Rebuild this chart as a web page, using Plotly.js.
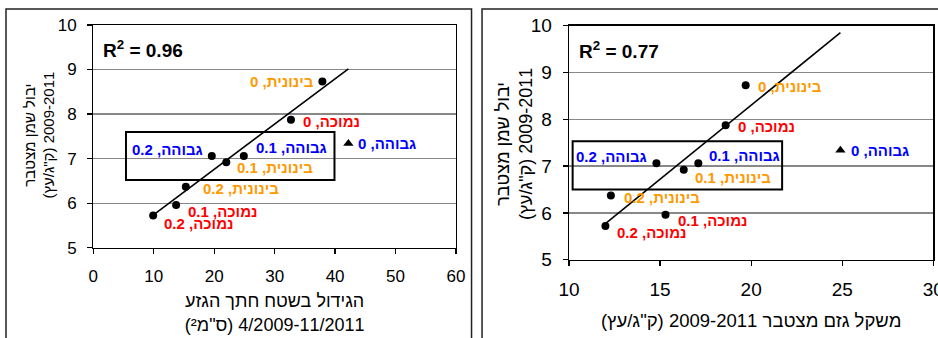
<!DOCTYPE html>
<html>
<head>
<meta charset="utf-8">
<script src="https://cdn.plot.ly/plotly-3.0.1.min.js"></script>
<style>html,body{margin:0;padding:0;background:#fff;}#chart{width:938px;height:338px;}</style>
</head>
<body>
<div id="chart"></div>
<script>
// ---------- DATA ----------
const vigor = ['נמוכה','נמוכה','נמוכה','בינונית','בינונית','בינונית','גבוהה','גבוהה','גבוהה'];
const rate = ['0','0.1','0.2','0','0.1','0.2','0','0.1','0.2'];
const oilYield = [7.87, 5.96, 5.72, 8.73, 6.92, 6.37, 7.34, 7.06, 7.06];
const trunkGrowth = [32.7, 13.7, 9.9, 37.9, 22.0, 15.3, 42.2, 24.9, 19.6];
const prunedWeight = [18.6, 15.3, 12.0, 19.7, 16.3, 12.3, 24.9, 17.1, 14.8];
const excludedFromFit = [false,false,false,false,false,false,true,false,false];
const r2Left = '0.96';
const r2Right = '0.77';
const leftXTitle = ['הגידול בשטח חתך הגזע', '4/2009-11/2011 (ס"מ²)'];
const rightXTitle = ['משקל גזם מצטבר 2009-2011 (ק"ג/עץ)'];
const yTitle = ['יבול שמן מצטבר', '2009-2011 (ק"ג/עץ)'];

// ---------- STYLE ----------
const vigorColor = {'נמוכה':'#FF0000','בינונית':'#FF9900','גבוהה':'#0000FF'};
const FONT = 'Liberation Sans, Arial, sans-serif';
const LABEL_SIZE = 15;
const RLE = '\u202B', PDF = '\u202C';
const rtl = s => RLE + s + PDF;
// right-to-left label "<vigor>, <rate>" laid out in display order for the SVG text run
const rtlLabel = (v, r) => r + ' ,' + v;
// label placement: [side of point, gap px, y shift px]
const leftLabelPos = [['l',11,-2],['l',11,-7],['l',10,-8],['r',7,0],['l',10,-5],['l',16,-2],['l',9,0],['l',11,8],['r',8,6]];
const rightLabelPos = [['l',11,-1],['l',11,-6],['l',11,-7],['l',11,-1],['l',10,-8],['l',12,-2],['l',10,0],['l',10,8],['r',8,7]];

function fit(xs, ys, excl) {
  const px = [], py = [];
  xs.forEach((x,i)=>{ if(!excl[i]){ px.push(x); py.push(ys[i]); } });
  const n = px.length;
  const mx = px.reduce((a,b)=>a+b,0)/n, my = py.reduce((a,b)=>a+b,0)/n;
  let sxy=0, sxx=0;
  for(let i=0;i<n;i++){ sxy+=(px[i]-mx)*(py[i]-my); sxx+=(px[i]-mx)*(px[i]-mx); }
  const b = sxy/sxx, a = my-b*mx;
  const x0 = Math.min(...xs), x1 = Math.max(...xs);
  return {x:[x0,x1], y:[a+b*x0, a+b*x1]};
}

function traces(xs, xa, ya) {
  const inc = xs.map((x,i)=>!excludedFromFit[i]);
  const circX = xs.filter((x,i)=>inc[i]), circY = oilYield.filter((y,i)=>inc[i]);
  const triX = xs.filter((x,i)=>!inc[i]), triY = oilYield.filter((y,i)=>!inc[i]);
  const f = fit(xs, oilYield, excludedFromFit);
  return [
    {x:f.x, y:f.y, xaxis:xa, yaxis:ya, mode:'lines', line:{color:'#000', width:1.6}, hoverinfo:'skip'},
    {x:circX, y:circY, xaxis:xa, yaxis:ya, mode:'markers', marker:{symbol:'circle', size:8, color:'#000'}},
    {x:triX, y:triY, xaxis:xa, yaxis:ya, mode:'markers', marker:{symbol:'triangle-up', size:9, color:'#000'}}
  ];
}

function labels(xs, xa, ya, pos) {
  return xs.map((x,i)=>{
    const side = pos[i][0]==='l' ? 'left' : 'right';
    return {
      x:x, y:oilYield[i], xref:xa, yref:ya, showarrow:false,
      text: rtlLabel(vigor[i], rate[i]), xanchor:side, align:side, yanchor:'middle',
      xshift: side==='left' ? pos[i][1] : -pos[i][1], yshift: pos[i][2], borderpad:0,
      font:{family:FONT, size:LABEL_SIZE, color:vigorColor[vigor[i]], weight:'bold'}
    };
  });
}

const axisCommon = {
  showline:true, mirror:true, linecolor:'#000', linewidth:1.3,
  ticks:'outside', ticklen:5, tickcolor:'#000', tickwidth:1.3,
  zeroline:false, automargin:false, fixedrange:true
};

const data = [...traces(trunkGrowth,'x','y'), ...traces(prunedWeight,'x2','y2')];

const layout = {
  width:938, height:338, margin:{l:0,r:0,t:0,b:0},
  paper_bgcolor:'#fff', plot_bgcolor:'#fff', showlegend:false,
  font:{family:FONT, color:'#000'},
  xaxis: Object.assign({}, axisCommon, {
    domain:[0.0995,0.4861], range:[0,60], dtick:10, anchor:'y', showgrid:false,
    tickfont:{size:17}, ticklabelstandoff:8,
    title:{text: leftXTitle.map(rtl).join('<br>'), font:{size:18}, standoff:9}
  }),
  yaxis: Object.assign({}, axisCommon, {
    domain:[0.2672,0.926], range:[5,10], dtick:1, anchor:'x', showgrid:true, gridcolor:'#888', gridwidth:1.3,
    tickfont:{size:17}, ticklabelstandoff:7
  }),
  xaxis2: Object.assign({}, axisCommon, {
    domain:[0.6066,0.995], range:[10,30], dtick:5, anchor:'y2', showgrid:false,
    tickfont:{size:19}, ticklabelstandoff:7, ticklabeloverflow:'allow',
    title:{text: rightXTitle.map(rtl).join('<br>'), font:{size:18.5}, standoff:15}
  }),
  yaxis2: Object.assign({}, axisCommon, {
    domain:[0.2317,0.924], range:[5,10], dtick:1, anchor:'x2', showgrid:true, gridcolor:'#888', gridwidth:1.3,
    tickfont:{size:19}, ticklabelstandoff:7
  }),
  annotations: [
    ...labels(trunkGrowth,'x','y',leftLabelPos),
    ...labels(prunedWeight,'x2','y2',rightLabelPos),
    {xref:'x domain', yref:'y domain', x:0.022, y:0.893, xanchor:'left', yanchor:'middle', showarrow:false,
     text:'R<sup>2</sup> = ' + r2Left, font:{family:FONT, size:19, weight:'bold', color:'#000'}},
    {xref:'x2 domain', yref:'y2 domain', x:0.022, y:0.895, xanchor:'left', yanchor:'middle', showarrow:false,
     text:'R<sup>2</sup> = ' + r2Right, font:{family:FONT, size:19, weight:'bold', color:'#000'}},
    {xref:'paper', yref:'paper', x:38.5/938, y:(338-135)/338, xanchor:'center', yanchor:'middle', showarrow:false,
     textangle:-90, text: yTitle.map(rtl).join('<br>'), font:{family:FONT, size:15, color:'#000'}},
    {xref:'paper', yref:'paper', x:515/938, y:(338-144)/338, xanchor:'center', yanchor:'middle', showarrow:false,
     textangle:-90, text: yTitle.map(rtl).join('<br>'), font:{family:FONT, size:18, color:'#000'}}
  ],
  shapes: [
    {type:'rect', xref:'x', yref:'y', x0:5.4, x1:39.9, y0:6.52, y1:7.6, line:{color:'#000', width:2}},
    {type:'rect', xref:'x2', yref:'y2', x0:10.2, x1:21.7, y0:6.5, y1:7.53, line:{color:'#000', width:2}},
    {type:'rect', xref:'paper', yref:'paper', x0:0.0064, x1:0.5027, y0:-0.1, y1:0.9734, line:{color:'#222', width:1.5}, layer:'below'},
    {type:'rect', xref:'paper', yref:'paper', x0:0.5139, x1:1.1, y0:-0.1, y1:0.9734, line:{color:'#222', width:1.5}, layer:'below'}
  ]
};

Plotly.newPlot('chart', data, layout, {staticPlot:true, displayModeBar:false});
</script>
</body>
</html>
